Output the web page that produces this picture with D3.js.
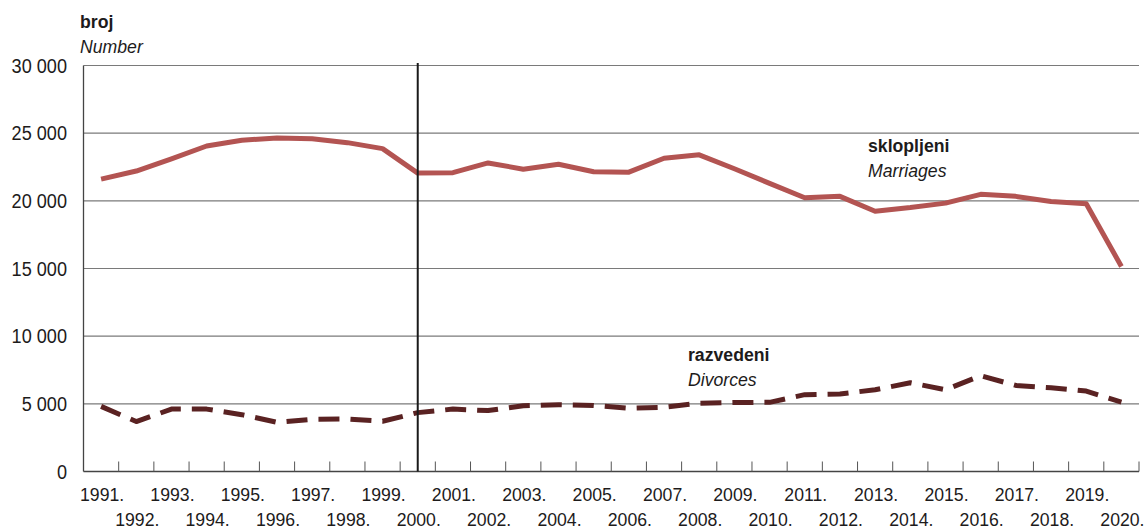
<!DOCTYPE html>
<html><head><meta charset="utf-8">
<script src="https://cdn.jsdelivr.net/npm/d3@7"></script>
<style>
html,body{margin:0;padding:0;background:#fff;}
svg text{font-family:"Liberation Sans","Arial",sans-serif;fill:#1d1b1b;}
</style></head>
<body>
<svg id="c" width="1145" height="529"></svg>
<script>
const years = d3.range(1991, 2021).map(String);
const marriages = [21600,22200,23100,24050,24470,24650,24580,24300,23860,22050,
  22080,22800,22340,22700,22150,22120,23150,23400,22370,21290,
  20230,20330,19230,19500,19830,20480,20330,19950,19790,15150];
const divorces = [4810,3690,4610,4610,4200,3640,3860,3880,3710,4350,
  4610,4500,4860,4930,4880,4680,4750,5050,5100,5110,
  5680,5730,6040,6560,6040,7080,6360,6190,5940,5120];
const yTicks = [0,5000,10000,15000,20000,25000,30000];

const svg = d3.select("#c");
const pLeft = 83.5, pRight = 1139, pTop = 65.5, pBottom = 471.5;
const x = d3.scaleBand().domain(years).range([pLeft, pRight]);
const y = d3.scaleLinear().domain([0, 30000]).range([pBottom, pTop]);
const fmt = v => v === 0 ? "0" : d3.format(",")(v).replace(/,/g, " ");
const SX = 0.93;
const tr = (px, py) => `translate(${px},${py}) scale(${SX},1)`;

// gridlines
svg.append("g").selectAll("line").data(yTicks.filter(v => v > 0)).join("line")
  .attr("x1", pLeft).attr("x2", pRight)
  .attr("y1", d => y(d)).attr("y2", d => y(d))
  .attr("stroke", "#7a7a7a").attr("stroke-width", 1.2);

// y tick labels
svg.append("g").selectAll("text").data(yTicks).join("text")
  .attr("transform", d => tr(67, y(d) + 7))
  .attr("text-anchor", "end").attr("font-size", 19.5)
  .text(fmt);

// left axis
svg.append("line").attr("x1", pLeft).attr("x2", pLeft).attr("y1", pTop).attr("y2", pBottom)
  .attr("stroke", "#444").attr("stroke-width", 1.3);
// bottom axis
svg.append("line").attr("x1", pLeft).attr("x2", pRight).attr("y1", pBottom).attr("y2", pBottom)
  .attr("stroke", "#444").attr("stroke-width", 1.5);
// ticks at band boundaries
svg.append("g").selectAll("line").data(years.slice(1).concat(["end"])).join("line")
  .attr("x1", d => d === "end" ? pRight : x(d)).attr("x2", d => d === "end" ? pRight : x(d))
  .attr("y1", pBottom).attr("y2", pBottom - 10)
  .attr("stroke", "#555").attr("stroke-width", 1);

// x labels
svg.append("g").selectAll("text").data(years).join("text")
  .attr("transform", (d, i) => tr(x(d) + x.bandwidth() / 2 + 1, i % 2 === 0 ? 501 : 526))
  .attr("text-anchor", "middle").attr("font-size", 19)
  .text(d => d + ".");

const line = d3.line().x((d, i) => x(years[i]) + x.bandwidth() / 2).y(d => y(d));

svg.append("path").datum(marriages).attr("d", line)
  .attr("fill", "none").attr("stroke", "#b35452").attr("stroke-width", 5)
  .attr("stroke-linejoin", "round");
svg.append("path").datum(divorces).attr("d", line)
  .attr("fill", "none").attr("stroke", "#5a2222").attr("stroke-width", 5)
  .attr("stroke-dasharray", "21,11").attr("stroke-linecap", "butt")
  .attr("stroke-linejoin", "round");

// vertical line at 2000 (on top of series)
svg.append("line")
  .attr("x1", x("2000") + x.bandwidth() / 2).attr("x2", x("2000") + x.bandwidth() / 2)
  .attr("y1", 63).attr("y2", pBottom)
  .attr("stroke", "#1a1a1a").attr("stroke-width", 2);

// titles
const lab = (t, px, py, bold) => svg.append("text").attr("transform", tr(px, py))
  .attr("font-size", 19).attr("font-weight", bold ? "bold" : "normal")
  .attr("font-style", bold ? "normal" : "italic").text(t);
lab("broj", 80, 28, true);
lab("Number", 80, 53, false);
lab("sklopljeni", 868, 152, true);
lab("Marriages", 868, 177, false);
lab("razvedeni", 688, 361, true);
lab("Divorces", 688, 386, false);
</script>
</body></html>
